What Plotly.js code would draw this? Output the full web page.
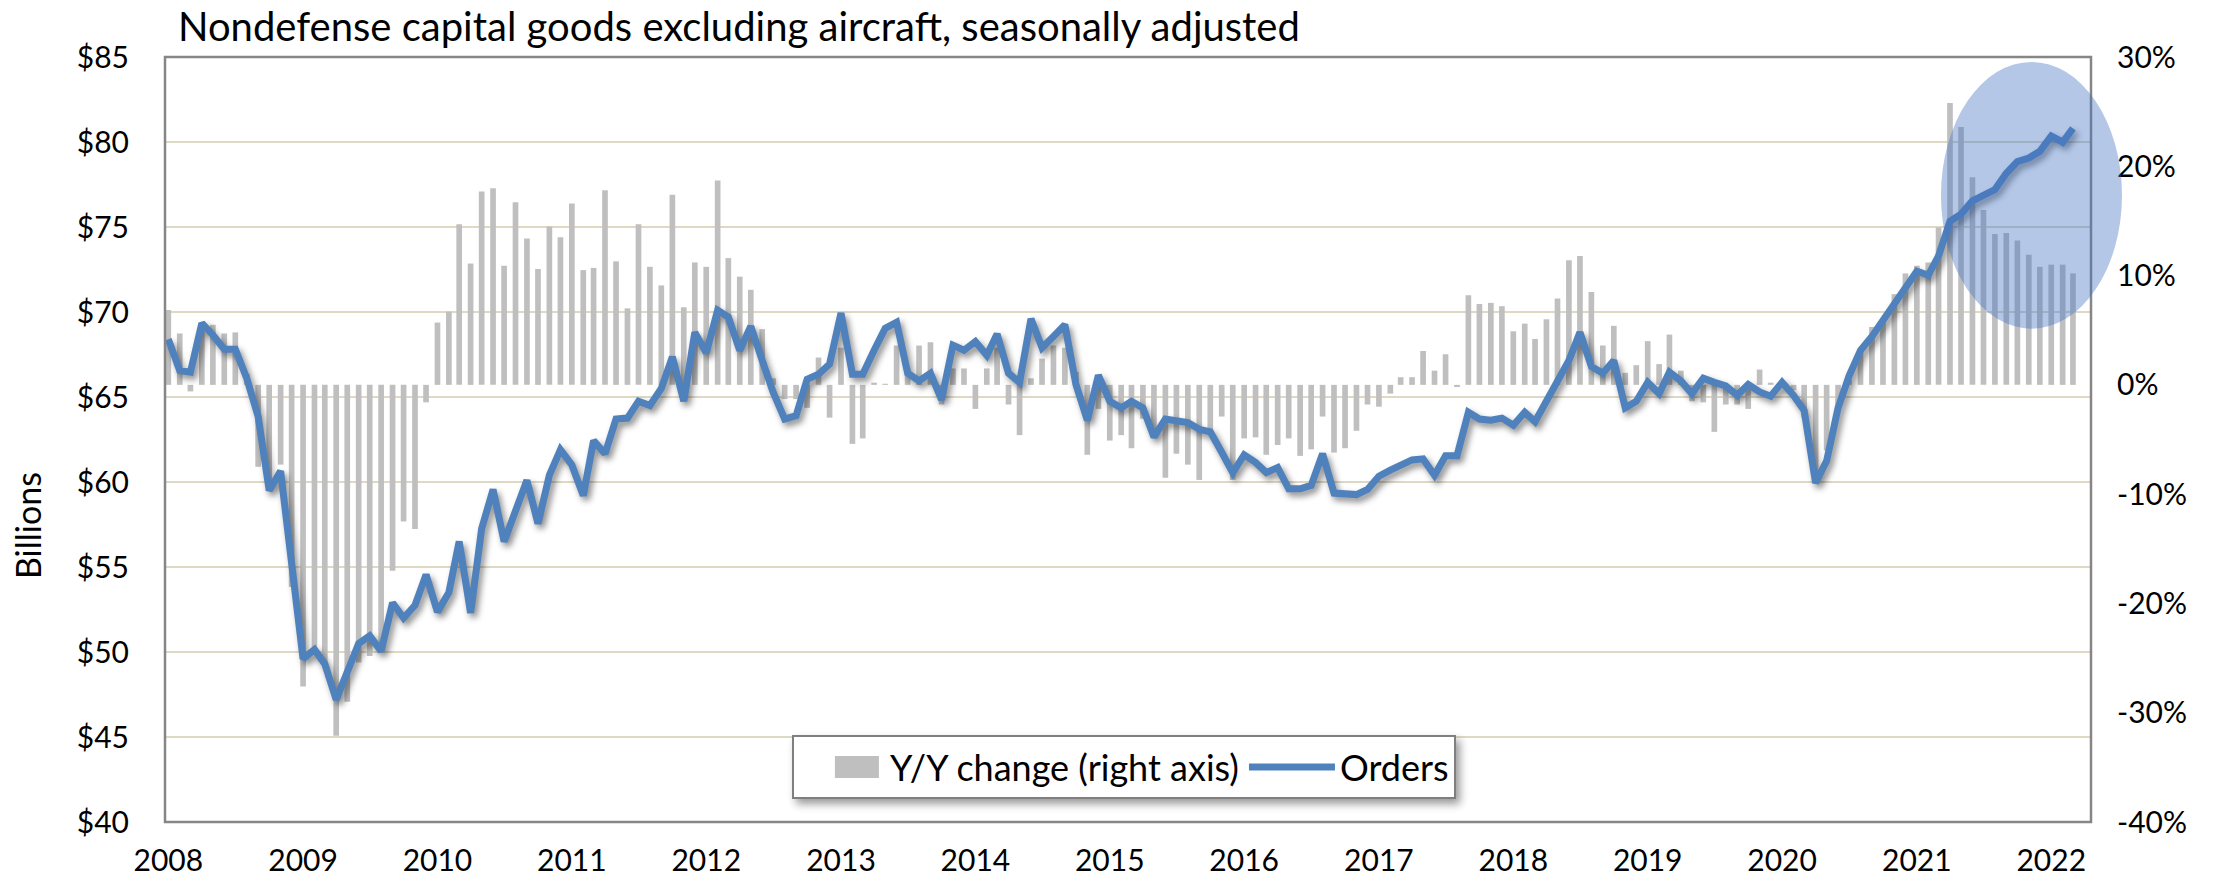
<!DOCTYPE html>
<html>
<head>
<meta charset="utf-8">
<script src="https://cdn.plot.ly/plotly-3.0.1.min.js"></script>
<style>
  html, body { margin: 0; padding: 0; background: #ffffff; }
  #chart { width: 2229px; height: 886px; }
</style>
</head>
<body>
<div id="chart"></div>
<script>
// ---- Data (monthly, Jan 2008 - Mar 2022) ----
const startYear = 2008;

// Orders, $ billions (left axis)
const orders = [
  68.4, 66.55, 66.46, 69.34, 68.65, 67.81, 67.81, 66.1, 63.85, 59.5, 60.64, 55.2,
  49.6, 50.14, 49.3, 47.2, 48.7, 50.5, 50.95, 50.05, 52.9, 52.0, 52.75, 54.55,
  52.36, 53.5, 56.5, 52.3, 57.25, 59.56, 56.5, 58.3, 60.1, 57.55, 60.4, 61.9,
  61.0, 59.2, 62.44, 61.66, 63.7, 63.76, 64.75, 64.5, 65.5, 67.36, 64.75, 68.8,
  67.6, 70.1, 69.7, 67.75, 69.16, 67.15, 65.26, 63.7, 63.9, 66.04, 66.34, 66.94,
  69.94, 66.34, 66.34, 67.75, 69.04, 69.4, 66.4, 65.95, 66.4, 64.84, 68.05, 67.75,
  68.26, 67.45, 68.7, 66.4, 65.86, 69.6, 67.9, 68.56, 69.25, 65.74, 63.64, 66.28,
  64.75, 64.36, 64.75, 64.36, 62.65, 63.7, 63.55, 63.5, 63.1, 62.95, 61.75, 60.55,
  61.6, 61.15, 60.55, 60.85, 59.6, 59.6, 59.8, 61.66, 59.35, 59.35, 59.26, 59.56,
  60.34, 60.7, 61.0, 61.3, 61.36, 60.4, 61.54, 61.54, 64.1, 63.7, 63.64, 63.76,
  63.34, 64.1, 63.55, 64.75, 66.04, 67.15, 68.8, 66.8, 66.4, 67.15, 64.36, 64.75,
  65.86, 65.2, 66.46, 65.95, 65.2, 66.1, 65.86, 65.65, 65.1, 65.74, 65.3, 65.05,
  65.86, 65.1, 64.2, 59.95, 61.24, 64.36, 66.25, 67.75, 68.56, 69.49, 70.45, 71.5,
  72.4, 72.16, 73.3, 75.34, 75.76, 76.54, 76.84, 77.2, 78.16, 78.85, 79.06, 79.45,
  80.35, 79.99, 80.8
];

// Y/Y change, percent (right axis)
const yoyChange = [
  6.85, 4.7, -0.6, 5.6, 5.5, 4.7, 4.8, 1.0, -7.5, -9.5, -7.3, -18.5,
  -27.6, -24.1, -25.5, -32.1, -29.0, -25.4, -24.8, -24.1, -17.0, -12.5, -13.2, -1.6,
  5.7, 6.7, 14.7, 11.1, 17.7, 18.0, 10.9, 16.7, 13.4, 10.6, 14.5, 13.5,
  16.6, 10.5, 10.7, 17.8, 11.3, 7.0, 14.7, 10.8, 9.1, 17.4, 7.1, 11.2,
  10.8, 18.7, 11.6, 9.9, 8.7, 5.1, 0.6, -1.3, -1.3, -2.1, 2.5, -3.0,
  3.4, -5.4, -4.9, 0.2, 0.1, 3.6, 1.5, 3.6, 3.9, -1.8, 1.5, 1.5,
  -2.2, 1.5, 3.4, -1.8, -4.6, 0.6, 2.4, 3.6, 3.4, 1.2, -6.4, -2.2,
  -5.1, -4.6, -5.8, -3.1, -4.9, -8.5, -6.3, -7.3, -8.7, -4.2, -2.9, -8.7,
  -4.9, -4.8, -6.4, -5.5, -4.9, -6.5, -5.9, -2.9, -6.2, -5.8, -4.2, -1.8,
  -2.0, -0.8, 0.7, 0.7, 3.1, 1.3, 2.8, -0.2, 8.2, 7.4, 7.5, 7.2,
  4.9, 5.6, 4.2, 6.0, 7.9, 11.4, 11.8, 8.5, 3.6, 5.4, 1.1, 1.8,
  4.0, 1.9, 4.6, 1.3, -1.5, -1.6, -4.3, -1.8, -1.8, -2.2, 1.4, 0.2,
  0.2, -0.5, -3.0, -9.0, -6.0, -2.3, 0.5, 3.2, 5.3, 5.8, 8.3, 10.2,
  10.9, 11.2, 14.4, 25.8, 23.6, 19.0, 16.0, 13.8, 13.9, 13.2, 11.9, 10.8,
  11.0, 11.0, 10.2
];

const yearLabels = ['2008','2009','2010','2011','2012','2013','2014','2015','2016','2017','2018','2019','2020','2021','2022'];
const leftTickVals = [40, 45, 50, 55, 60, 65, 70, 75, 80, 85];
const leftTickText = ['$40','$45','$50','$55','$60','$65','$70','$75','$80','$85'];
const rightTickVals = [-40, -30, -20, -10, 0, 10, 20, 30];
const rightTickText = ['-40%','-30%','-20%','-10%','0%','10%','20%','30%'];

const seriesNames = ['Y/Y change (right axis)', 'Orders'];
const titleText = 'Nondefense capital goods excluding aircraft, seasonally adjusted';
const yTitleText = 'Billions';

// ---- Build ----
const months = orders.map((_, i) => {
  const y = startYear + Math.floor(i / 12);
  const m = (i % 12) + 1;
  return y + '-' + String(m).padStart(2, '0') + '-01';
});
const yearTickVals = yearLabels.map(y => y + '-01-01');

const FONT = 'Lato, "Open Sans", "DejaVu Sans", sans-serif';

const traces = [
  {
    type: 'bar',
    name: seriesNames[0],
    x: months,
    y: yoyChange,
    yaxis: 'y',
    marker: { color: '#bfbfbf', line: { width: 0 } },
    hoverinfo: 'skip'
  },
  {
    type: 'scatter',
    mode: 'lines',
    name: seriesNames[1],
    x: months,
    y: orders,
    yaxis: 'y2',
    line: { color: '#4f81bd', width: 7 },
    hoverinfo: 'skip'
  }
];

const layout = {
  width: 2229,
  height: 886,
  margin: { l: 165, r: 138, t: 57, b: 64, pad: 0 },
  paper_bgcolor: '#ffffff',
  plot_bgcolor: '#ffffff',
  font: { family: FONT, size: 30, color: '#000000' },
  title: {
    text: titleText,
    xref: 'container', x: 178 / 2229, xanchor: 'left',
    yref: 'container', y: 1 - 27 / 886, yanchor: 'middle',
    font: { family: FONT, size: 40, color: '#000000' }
  },
  showlegend: true,
  legend: {
    orientation: 'h',
    x: 0.3255, y: 0.1137, xanchor: 'left', yanchor: 'top',
    bgcolor: '#ffffff', bordercolor: '#7f7f7f', borderwidth: 2,
    font: { family: FONT, size: 36, color: '#000000' },
    itemwidth: 86,
    traceorder: 'normal'
  },
  bargap: 0.45,
  xaxis: {
    type: 'date',
    range: ['2007-12-23', '2022-04-19'],
    tickmode: 'array',
    tickvals: yearTickVals,
    ticktext: yearLabels,
    showgrid: false, zeroline: false, showline: false, ticks: '',
    ticklabelstandoff: 18,
    tickfont: { family: FONT, size: 30, color: '#000000' }
  },
  yaxis: {
    side: 'right',
    range: [-40, 30],
    tickmode: 'array',
    tickvals: rightTickVals,
    ticktext: rightTickText,
    showgrid: false, zeroline: false, showline: false, ticks: '',
    ticklabelstandoff: 25,
    tickfont: { family: FONT, size: 30, color: '#000000' }
  },
  yaxis2: {
    side: 'left',
    overlaying: 'y',
    range: [40, 85],
    tickmode: 'array',
    tickvals: leftTickVals,
    ticktext: leftTickText,
    showgrid: true, gridcolor: '#ddd9c3', gridwidth: 2,
    zeroline: false, showline: false, ticks: '',
    ticklabelstandoff: 35,
    tickfont: { family: FONT, size: 30, color: '#000000' }
  },
  shapes: [
    {
      type: 'rect', xref: 'paper', yref: 'paper', x0: 0, x1: 1, y0: 0, y1: 1,
      line: { color: '#868686', width: 2.5 }, fillcolor: 'rgba(0,0,0,0)', layer: 'above'
    },
    {
      type: 'circle', xref: 'paper', yref: 'paper',
      x0: 0.9221, x1: 1.0161, y0: 0.6449, y1: 0.9935,
      line: { width: 0 }, fillcolor: 'rgba(68,114,196,0.4)', layer: 'above'
    }
  ],
  annotations: [
    {
      text: yTitleText, xref: 'paper', yref: 'paper',
      x: -0.0711, y: 0.387, xanchor: 'center', yanchor: 'middle',
      textangle: -90, showarrow: false,
      font: { family: FONT, size: 34, color: '#000000' }
    }
  ]
};

Plotly.newPlot('chart', traces, layout, { staticPlot: true, displayModeBar: false }).then(gd => {
  gd.querySelectorAll('.scatterlayer .js-line').forEach(p => {
    p.style.filter = 'drop-shadow(3px 4px 3px rgba(0,0,0,0.45))';
  });
  const bg = gd.querySelector('.legend .bg');
  if (bg) bg.style.filter = 'drop-shadow(4px 5px 4px rgba(0,0,0,0.4))';
  // wide grey swatch for the bar entry, placed like the reference's legend key
  const items = gd.querySelectorAll('.legend .traces');
  if (items.length) {
    items[0].querySelectorAll('.legendpoints path').forEach(p => {
      p.setAttribute('d', 'M37,11H-7V-11H37Z');
    });
  }
});
</script>
</body>
</html>
